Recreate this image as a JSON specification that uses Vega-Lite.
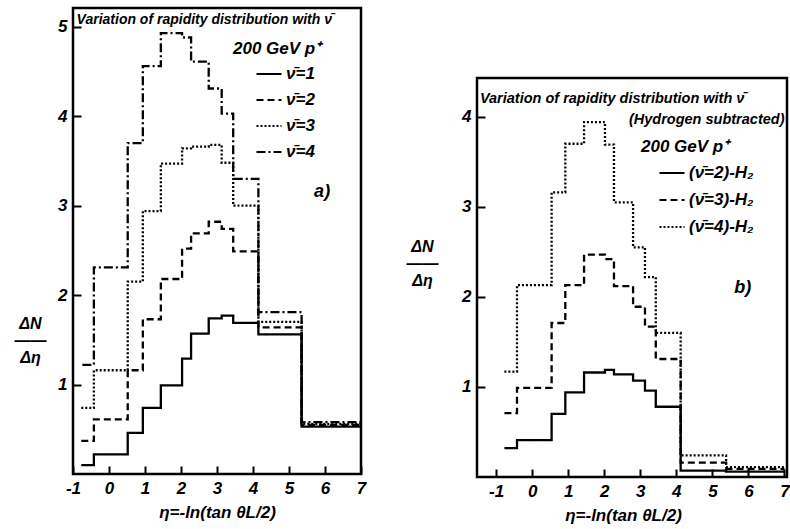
{
  "$schema": "https://vega.github.io/schema/vega-lite/v6.json",
  "autosize": {"type": "none"},
  "padding": {"left": 73, "top": 8, "right": 717, "bottom": 521},
  "background": "white",
  "config": {
    "font": "Liberation Sans",
    "view": {"stroke": "black", "strokeWidth": 2.5},
    "axis": {
      "domain": false, "grid": false, "tickColor": "black", "tickWidth": 2, "tickSize": 8, "offset": -8,
      "labelPadding": 6, "labelOverlap": false, "labelFlush": false, "labelBound": false,
      "labelFont": "Liberation Sans", "labelFontSize": 17, "labelFontStyle": "italic", "labelFontWeight": "bold", "labelColor": "black",
      "titleFont": "Liberation Sans", "titleFontSize": 17, "titleFontStyle": "italic", "titleFontWeight": "bold", "titleColor": "black"
    },
    "legend": {
      "orient": "none", "padding": 0, "symbolType": "stroke", "symbolStrokeColor": "black", "symbolStrokeWidth": 2.2, "symbolSize": 625,
      "labelFont": "Liberation Sans", "labelFontSize": 17, "labelFontStyle": "italic", "labelFontWeight": "bold", "labelColor": "black",
      "titleFont": "Liberation Sans", "titleFontSize": 17, "titleFontStyle": "italic", "titleFontWeight": "bold", "titleColor": "black",
      "rowPadding": 4, "labelOffset": 3
    },
    "text": {"font": "Liberation Sans", "fontStyle": "italic", "fontWeight": "bold", "color": "black"}
  },
  "datasets": {
    "a": [
      {"series": "ν̄=1", "x": -0.77, "y": 0.10}, {"series": "ν̄=1", "x": -0.42, "y": 0.22}, {"series": "ν̄=1", "x": 0.52, "y": 0.46}, {"series": "ν̄=1", "x": 0.94, "y": 0.74}, {"series": "ν̄=1", "x": 1.44, "y": 0.99}, {"series": "ν̄=1", "x": 2.03, "y": 1.29}, {"series": "ν̄=1", "x": 2.28, "y": 1.57}, {"series": "ν̄=1", "x": 2.77, "y": 1.74}, {"series": "ν̄=1", "x": 3.13, "y": 1.77}, {"series": "ν̄=1", "x": 3.45, "y": 1.69}, {"series": "ν̄=1", "x": 4.15, "y": 1.56}, {"series": "ν̄=1", "x": 5.35, "y": 0.53}, {"series": "ν̄=1", "x": 7.0, "y": 0.53},
      {"series": "ν̄=2", "x": -0.77, "y": 0.37}, {"series": "ν̄=2", "x": -0.42, "y": 0.61}, {"series": "ν̄=2", "x": 0.52, "y": 1.16}, {"series": "ν̄=2", "x": 0.94, "y": 1.73}, {"series": "ν̄=2", "x": 1.44, "y": 2.18}, {"series": "ν̄=2", "x": 2.03, "y": 2.52}, {"series": "ν̄=2", "x": 2.28, "y": 2.69}, {"series": "ν̄=2", "x": 2.77, "y": 2.82}, {"series": "ν̄=2", "x": 3.13, "y": 2.74}, {"series": "ν̄=2", "x": 3.45, "y": 2.49}, {"series": "ν̄=2", "x": 4.15, "y": 1.64}, {"series": "ν̄=2", "x": 5.35, "y": 0.55}, {"series": "ν̄=2", "x": 7.0, "y": 0.55},
      {"series": "ν̄=3", "x": -0.77, "y": 0.74}, {"series": "ν̄=3", "x": -0.42, "y": 1.16}, {"series": "ν̄=3", "x": 0.52, "y": 2.15}, {"series": "ν̄=3", "x": 0.94, "y": 2.94}, {"series": "ν̄=3", "x": 1.44, "y": 3.47}, {"series": "ν̄=3", "x": 2.03, "y": 3.64}, {"series": "ν̄=3", "x": 2.28, "y": 3.66}, {"series": "ν̄=3", "x": 2.77, "y": 3.68}, {"series": "ν̄=3", "x": 3.13, "y": 3.48}, {"series": "ν̄=3", "x": 3.45, "y": 3.00}, {"series": "ν̄=3", "x": 4.15, "y": 1.70}, {"series": "ν̄=3", "x": 5.35, "y": 0.56}, {"series": "ν̄=3", "x": 7.0, "y": 0.56},
      {"series": "ν̄=4", "x": -0.74, "y": 1.22}, {"series": "ν̄=4", "x": -0.42, "y": 2.31}, {"series": "ν̄=4", "x": 0.52, "y": 3.70}, {"series": "ν̄=4", "x": 0.94, "y": 4.56}, {"series": "ν̄=4", "x": 1.44, "y": 4.93}, {"series": "ν̄=4", "x": 2.03, "y": 4.88}, {"series": "ν̄=4", "x": 2.28, "y": 4.61}, {"series": "ν̄=4", "x": 2.77, "y": 4.31}, {"series": "ν̄=4", "x": 3.13, "y": 4.03}, {"series": "ν̄=4", "x": 3.45, "y": 3.30}, {"series": "ν̄=4", "x": 4.15, "y": 1.81}, {"series": "ν̄=4", "x": 5.35, "y": 0.58}, {"series": "ν̄=4", "x": 7.0, "y": 0.58}
    ],
    "b": [
      {"series": "(ν̄=2)-H₂", "x": -0.77, "y": 0.32}, {"series": "(ν̄=2)-H₂", "x": -0.42, "y": 0.41}, {"series": "(ν̄=2)-H₂", "x": 0.54, "y": 0.70}, {"series": "(ν̄=2)-H₂", "x": 0.92, "y": 0.94}, {"series": "(ν̄=2)-H₂", "x": 1.44, "y": 1.16}, {"series": "(ν̄=2)-H₂", "x": 2.02, "y": 1.19}, {"series": "(ν̄=2)-H₂", "x": 2.27, "y": 1.14}, {"series": "(ν̄=2)-H₂", "x": 2.80, "y": 1.07}, {"series": "(ν̄=2)-H₂", "x": 3.13, "y": 0.96}, {"series": "(ν̄=2)-H₂", "x": 3.43, "y": 0.78}, {"series": "(ν̄=2)-H₂", "x": 4.12, "y": 0.07}, {"series": "(ν̄=2)-H₂", "x": 5.38, "y": 0.06}, {"series": "(ν̄=2)-H₂", "x": 7.0, "y": 0.06},
      {"series": "(ν̄=3)-H₂", "x": -0.77, "y": 0.71}, {"series": "(ν̄=3)-H₂", "x": -0.42, "y": 0.99}, {"series": "(ν̄=3)-H₂", "x": 0.54, "y": 1.71}, {"series": "(ν̄=3)-H₂", "x": 0.92, "y": 2.13}, {"series": "(ν̄=3)-H₂", "x": 1.44, "y": 2.47}, {"series": "(ν̄=3)-H₂", "x": 2.02, "y": 2.42}, {"series": "(ν̄=3)-H₂", "x": 2.27, "y": 2.12}, {"series": "(ν̄=3)-H₂", "x": 2.80, "y": 1.89}, {"series": "(ν̄=3)-H₂", "x": 3.13, "y": 1.67}, {"series": "(ν̄=3)-H₂", "x": 3.43, "y": 1.31}, {"series": "(ν̄=3)-H₂", "x": 4.12, "y": 0.16}, {"series": "(ν̄=3)-H₂", "x": 5.38, "y": 0.09}, {"series": "(ν̄=3)-H₂", "x": 7.0, "y": 0.09},
      {"series": "(ν̄=4)-H₂", "x": -0.77, "y": 1.17}, {"series": "(ν̄=4)-H₂", "x": -0.42, "y": 2.13}, {"series": "(ν̄=4)-H₂", "x": 0.54, "y": 3.16}, {"series": "(ν̄=4)-H₂", "x": 0.92, "y": 3.70}, {"series": "(ν̄=4)-H₂", "x": 1.44, "y": 3.94}, {"series": "(ν̄=4)-H₂", "x": 2.02, "y": 3.69}, {"series": "(ν̄=4)-H₂", "x": 2.27, "y": 3.05}, {"series": "(ν̄=4)-H₂", "x": 2.80, "y": 2.55}, {"series": "(ν̄=4)-H₂", "x": 3.13, "y": 2.22}, {"series": "(ν̄=4)-H₂", "x": 3.43, "y": 1.60}, {"series": "(ν̄=4)-H₂", "x": 4.12, "y": 0.24}, {"series": "(ν̄=4)-H₂", "x": 5.38, "y": 0.11}, {"series": "(ν̄=4)-H₂", "x": 7.0, "y": 0.11}
    ]
  },
  "resolve": {"scale": {"strokeDash": "independent", "x": "independent", "y": "independent"}, "legend": {"strokeDash": "independent"}},
  "hconcat": [
    {
      "width": 288, "height": 466,
      "layer": [
        {
          "data": {"name": "a"},
          "mark": {"type": "line", "interpolate": "step-after", "color": "black", "strokeWidth": 2.3},
          "encoding": {
            "x": {"field": "x", "type": "quantitative", "scale": {"domain": [-1, 7], "nice": false, "zero": false},
                  "axis": {"values": [-1, 0, 1, 2, 3, 4, 5, 6, 7], "tickCount": 20, "labelExpr": "'' + datum.value", "title": "η=-ln(tan θL/2)", "titleY": 51, "titleBaseline": "alphabetic"}},
            "y": {"field": "y", "type": "quantitative", "scale": {"domain": [0, 5.21], "nice": false},
                  "axis": {"values": [1, 2, 3, 4, 5], "tickCount": 20, "labelExpr": "'' + datum.value", "title": ["ΔN", "——", "Δη"], "titleFontSize": 16, "titleAngle": 0, "titleAlign": "center", "titleBaseline": "middle", "titleX": -51, "titleY": 315, "titleLineHeight": 17}},
            "strokeDash": {"field": "series", "type": "nominal",
                  "scale": {"domain": ["ν̄=1", "ν̄=2", "ν̄=3", "ν̄=4"], "range": [[1, 0], [7, 4], [2, 2], [9, 3, 2, 3]]},
                  "legend": {"title": "200 GeV p⁺", "legendX": 160, "legendY": 33, "symbolOffset": 22, "titlePadding": 2}}
          }
        },
        {
          "data": {"values": [{"t": "Variation of rapidity distribution with ν̄"}]},
          "mark": {"type": "text", "align": "left", "baseline": "middle", "fontSize": 14},
          "encoding": {"x": {"datum": -0.9}, "y": {"datum": 5.08}, "text": {"field": "t"}}
        },
        {
          "data": {"values": [{"t": "a)"}]},
          "mark": {"type": "text", "align": "center", "baseline": "middle", "fontSize": 18},
          "encoding": {"x": {"datum": 5.92}, "y": {"datum": 3.15}, "text": {"field": "t"}}
        }
      ]
    },
    {
      "vconcat": [
        {
          "width": 310, "height": 70,
          "view": {"stroke": null},
          "data": {"values": []},
          "mark": {"type": "point", "opacity": 0},
          "encoding": {}
        },
        {
          "width": 310, "height": 399,
          "layer": [
            {
              "data": {"name": "b"},
              "mark": {"type": "line", "interpolate": "step-after", "color": "black", "strokeWidth": 2.3},
              "encoding": {
                "x": {"field": "x", "type": "quantitative", "scale": {"domain": [-1.53, 7.07], "nice": false, "zero": false},
                      "axis": {"values": [-1, 0, 1, 2, 3, 4, 5, 6, 7], "tickCount": 20, "labelExpr": "'' + datum.value", "title": "η=-ln(tan θL/2)", "titleY": 51, "titleBaseline": "alphabetic", "titleX": 146}},
                "y": {"field": "y", "type": "quantitative", "scale": {"domain": [0, 4.43], "nice": false},
                      "axis": {"values": [1, 2, 3, 4], "tickCount": 20, "labelExpr": "'' + datum.value", "title": ["ΔN", "——", "Δη"], "titleFontSize": 16, "titleAngle": 0, "titleAlign": "center", "titleBaseline": "middle", "titleX": -63, "titleY": 168, "titleLineHeight": 17}},
                "strokeDash": {"field": "series", "type": "nominal",
                      "scale": {"domain": ["(ν̄=2)-H₂", "(ν̄=3)-H₂", "(ν̄=4)-H₂"], "range": [[1, 0], [7, 4], [2, 2]]},
                      "legend": {"title": "200 GeV p⁺", "legendX": 164, "legendY": 131, "symbolOffset": 17, "titlePadding": 3, "rowPadding": 5}}
              }
            },
            {
              "data": {"values": [{"t": "Variation of rapidity distribution with ν̄"}]},
              "mark": {"type": "text", "align": "left", "baseline": "middle", "fontSize": 14.5},
              "encoding": {"x": {"datum": -1.45}, "y": {"datum": 4.2}, "text": {"field": "t"}}
            },
            {
              "data": {"values": [{"t": "(Hydrogen subtracted)"}]},
              "mark": {"type": "text", "align": "right", "baseline": "middle", "fontSize": 14.5},
              "encoding": {"x": {"datum": 7.0}, "y": {"datum": 3.96}, "text": {"field": "t"}}
            },
            {
              "data": {"values": [{"t": "b)"}]},
              "mark": {"type": "text", "align": "center", "baseline": "middle", "fontSize": 18},
              "encoding": {"x": {"datum": 5.84}, "y": {"datum": 2.1}, "text": {"field": "t"}}
            }
          ]
        }
      ],
      "spacing": 0,
      "bounds": "flush"
    }
  ],
  "spacing": 116,
  "bounds": "flush"
}
